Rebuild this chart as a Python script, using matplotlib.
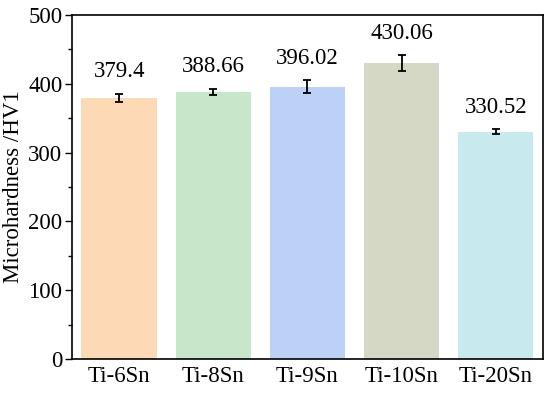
import matplotlib.pyplot as plt
from matplotlib.ticker import MultipleLocator

plt.rcParams['font.family'] = ['Liberation Serif', 'DejaVu Serif']

alloys = ['Ti-6Sn', 'Ti-8Sn', 'Ti-9Sn', 'Ti-10Sn', 'Ti-20Sn']
hardness = [379.4, 388.66, 396.02, 430.06, 330.52]
errors = [6.5, 4.5, 9, 11.5, 4]
colors = ['#FDD9B6', '#C8E6C9', '#BDD1F6', '#D5D8C4', '#C8EAEE']

fig, ax = plt.subplots(figsize=(5.5, 3.95), dpi=100)

x = range(len(alloys))
ax.bar(x, hardness, width=0.8, color=colors, zorder=1)
ax.errorbar(x, hardness, yerr=errors, fmt='none', ecolor='black',
            elinewidth=1.3, capsize=3, capthick=1.3, zorder=2)

# value labels above the error bars
for i, (h, e) in enumerate(zip(hardness, errors)):
    ax.annotate(f'{h:g}', (i, h + e), xytext=(0, 8), textcoords='offset points',
                ha='center', va='bottom', fontsize=16.5)

ax.set_xlim(-0.5, 4.5)
ax.set_ylim(0, 500)
ax.set_xticks(list(x))
ax.set_xticklabels(alloys, fontsize=16.5)
ax.tick_params(axis='x', length=0, pad=5)
ax.yaxis.set_major_locator(MultipleLocator(100))
ax.yaxis.set_minor_locator(MultipleLocator(50))
ax.tick_params(axis='y', which='major', length=5, width=1, labelsize=16.5, pad=2)
ax.tick_params(axis='y', which='minor', length=3, width=1)
ax.set_ylabel('Microhardness /HV1', fontsize=16.5, labelpad=3)

for s in ax.spines.values():
    s.set_linewidth(1.2)

fig.subplots_adjust(left=0.131, right=0.987, top=0.962, bottom=0.091)
fig.savefig('out.png', dpi=100)
